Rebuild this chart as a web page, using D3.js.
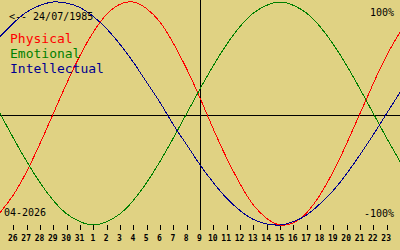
<!DOCTYPE html>
<html>
<head>
<meta charset="utf-8">
<script src="https://cdn.jsdelivr.net/npm/d3@7/dist/d3.min.js"></script>
<style>
  html, body { margin: 0; padding: 0; background: #e0d283; }
  svg { display: block; }
  text { font-family: "DejaVu Sans Mono", monospace; }
</style>
</head>
<body>
<svg id="chart" width="400" height="250"></svg>
<script>
// day labels, 26 Mar .. 23 Apr (the 9th is "today")
const dayLabels = ['26', '27', '28', '29', '30', '31', '1', '2', '3', '4', '5', '6', '7', '8', '9',
    '10', '11', '12', '13', '14', '15', '16', '17', '18', '19', '20', '21', '22', '23'];
const todayIndex = 14;

// values per day, one point before and one after the labelled days (index -1 .. 29)
const physical = [-0.89, -0.73, -0.52, -0.27, 0, 0.27, 0.52, 0.73, 0.89, 0.98, 1.0, 0.94, 0.82, 0.63, 0.40,
    0.14, -0.14, -0.40, -0.63, -0.82, -0.94, -1.0, -0.98, -0.89, -0.73, -0.52, -0.27, 0, 0.27, 0.52, 0.73];
const emotional = [0, -0.22, -0.43, -0.62, -0.78, -0.90, -0.97, -1.0, -0.97, -0.90, -0.78, -0.62, -0.43, -0.22, 0,
    0.22, 0.43, 0.62, 0.78, 0.90, 0.97, 1.0, 0.97, 0.90, 0.78, 0.62, 0.43, 0.22, 0, -0.22, -0.43];
const intellectual = [0.69, 0.81, 0.91, 0.97, 1.0, 0.99, 0.95, 0.87, 0.76, 0.62, 0.46, 0.28, 0.10, -0.10, -0.28,
    -0.46, -0.62, -0.76, -0.87, -0.95, -0.99, -1.0, -0.97, -0.91, -0.81, -0.69, -0.54, -0.37, -0.19, 0, 0.19];

const seriesNames = ['Physical', 'Emotional', 'Intellectual'];
const seriesColors = ['#ff0000', '#008000', '#000090'];
const birthLabel = '<-- 24/07/1985';
const monthLabel = '04-2026';

const svg = d3.select('#chart');
const width = 400;

const x = d3.scaleLinear().domain([-1, 29]).range([0, width]);
const y = d3.scaleLinear().domain([-1, 1]).range([225, 2]);

// axes lines
svg.append('line')
    .attr('x1', 0).attr('x2', width)
    .attr('y1', 115.5).attr('y2', 115.5)
    .attr('stroke', '#000').attr('stroke-width', 1);
svg.append('line')
    .attr('x1', Math.round(x(todayIndex)) + 0.5).attr('x2', Math.round(x(todayIndex)) + 0.5)
    .attr('y1', 0).attr('y2', 230)
    .attr('stroke', '#000').attr('stroke-width', 1);

// day ticks
const ticks = svg.append('g').attr('class', 'ticks');
ticks.selectAll('line')
    .data(dayLabels)
    .enter()
    .append('line')
    .attr('x1', (d, i) => Math.round(x(i)) + 0.5)
    .attr('x2', (d, i) => Math.round(x(i)) + 0.5)
    .attr('y1', 225)
    .attr('y2', 230)
    .attr('stroke', '#000');
ticks.selectAll('text')
    .data(dayLabels)
    .enter()
    .append('text')
    .attr('x', (d, i) => x(i) - 0.5)
    .attr('y', 241)
    .attr('text-anchor', 'middle')
    .style('font-size', '8px')
    .style('font-weight', 'bold')
    .text(d => d);

// curves
const line = d3.line()
    .x((d, i) => x(i - 1))
    .y(d => y(d))
    .curve(d3.curveNatural);

svg.append('g')
    .selectAll('path')
    .data([physical, emotional, intellectual])
    .enter()
    .append('path')
    .attr('d', d => line(d))
    .attr('fill', 'none')
    .attr('stroke', (d, i) => seriesColors[i])
    .attr('stroke-width', 1)
    .attr('shape-rendering', 'crispEdges');

// labels
svg.append('text')
    .attr('x', 9).attr('y', 20)
    .style('font-size', '10px')
    .text(birthLabel);

svg.append('g')
    .selectAll('text')
    .data(seriesNames)
    .enter()
    .append('text')
    .attr('x', 10)
    .attr('y', (d, i) => 43 + i * 15)
    .attr('fill', (d, i) => seriesColors[i])
    .style('font-size', '13px')
    .text(d => d);

svg.append('text')
    .attr('x', 394).attr('y', 16)
    .attr('text-anchor', 'end')
    .style('font-size', '10px')
    .text('100%');

svg.append('text')
    .attr('x', 394).attr('y', 217)
    .attr('text-anchor', 'end')
    .style('font-size', '10px')
    .text('-100%');

svg.append('text')
    .attr('x', 4).attr('y', 216)
    .style('font-size', '10px')
    .text(monthLabel);
</script>
</body>
</html>
